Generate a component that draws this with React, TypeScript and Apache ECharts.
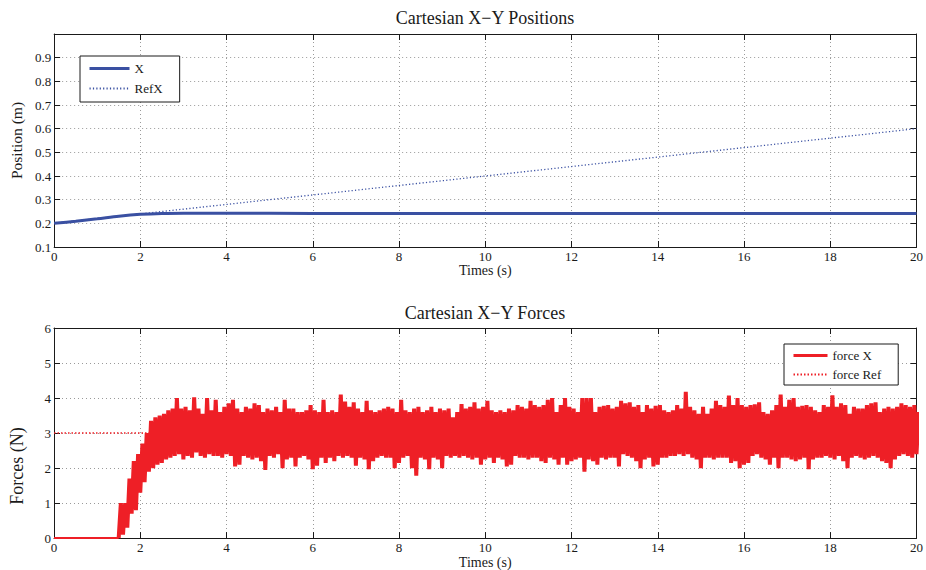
import React, { useEffect, useRef } from "react";
import * as echarts from "echarts";

// ---- Position plot data ----
const posTimes = [0, 0.5, 1, 1.5, 2, 2.5, 3, 4, 6, 8, 10, 12, 14, 16, 18, 20];
const posX = [0.2, 0.209, 0.219, 0.23, 0.238, 0.242, 0.243, 0.243, 0.242, 0.242, 0.242, 0.242, 0.242, 0.242, 0.242, 0.242];
const refTimes = [0, 2, 4, 6, 8, 10, 12, 14, 16, 18, 20];
const refX = [0.2, 0.24, 0.28, 0.32, 0.36, 0.4, 0.44, 0.48, 0.52, 0.56, 0.6];

// ---- Force plot data ----
// Force is zero until contact, then a fast oscillation; stored as the
// per-0.1 s high / low excursions of the signal starting at forceStart.
const idleTimes = [0, 1.5];
const idleForce = [0, 0];
const forceStart = 1.5;
const forceStep = 0.1;
const forceHi = [
  1.0, 1.0, 1.7, 2.2, 2.4, 2.7, 3.0, 3.35, 3.45, 3.5,
  3.55, 3.65, 3.7, 4.0, 3.7, 3.75, 3.65, 4.02, 3.7, 3.55,
  4.0, 3.65, 3.95, 3.6, 3.75, 3.85, 3.95, 3.7, 3.6, 3.75,
  3.7, 3.85, 3.8, 3.6, 3.7, 3.65, 3.75, 3.6, 3.95, 3.7,
  3.7, 3.6, 3.6, 3.65, 3.8, 3.65, 3.6, 3.95, 3.6, 3.65,
  3.6, 4.1, 3.9, 3.75, 3.88, 3.7, 3.6, 3.92, 3.65, 3.6,
  3.65, 3.7, 3.75, 3.7, 3.6, 3.95, 3.65, 3.6, 3.7, 3.75,
  3.6, 3.65, 3.75, 3.6, 3.7, 3.65, 3.7, 3.45, 3.6, 3.83,
  3.7, 3.75, 3.88, 3.7, 3.75, 3.92, 3.65, 3.6, 3.65, 3.6,
  3.7, 3.65, 3.8, 3.75, 3.7, 3.92, 3.8, 3.75, 3.8, 3.95,
  4.0, 3.6, 3.8, 4.0, 3.75, 3.7, 3.6, 4.0, 4.0, 4.0,
  3.6, 3.75, 3.78, 3.8, 3.7, 3.75, 3.92, 3.85, 3.88, 3.75,
  3.8, 3.6, 3.8, 3.7, 3.78, 3.8, 3.65, 3.6, 3.65, 3.8,
  3.7, 4.18, 3.75, 3.65, 3.55, 3.75, 3.55, 3.7, 3.92, 3.8,
  3.75, 4.07, 3.8, 4.0, 3.8, 3.75, 3.8, 3.82, 3.88, 3.6,
  3.55, 3.65, 3.8, 4.1, 3.75, 3.95, 4.0, 3.75, 3.78, 3.8,
  3.75, 3.65, 3.6, 3.8, 3.75, 4.08, 3.75, 3.85, 3.8, 3.55,
  3.75, 3.7, 3.7, 3.8, 3.85, 3.88, 3.6, 3.7, 3.75, 3.7,
  3.75, 3.85, 3.8, 3.75, 3.8, 3.6,
];
const forceLo = [
  0.0, 0.1, 0.3, 0.7, 0.8, 1.3, 1.6, 1.9, 2.0, 2.1,
  2.15, 2.25, 2.3, 2.35, 2.4, 2.25, 2.35, 2.3, 2.45, 2.35,
  2.3, 2.4, 2.35, 2.35, 2.3, 2.4, 2.35, 2.05, 2.1, 2.35,
  2.3, 2.25, 2.3, 2.2, 1.95, 2.35, 2.3, 2.4, 2.0, 2.25,
  2.3, 2.05, 2.3, 2.35, 2.25, 1.97, 2.07, 2.3, 2.15, 2.3,
  2.2, 2.35, 2.3, 2.35, 2.3, 2.07, 2.3, 2.25, 1.97, 2.2,
  2.3, 2.35, 2.3, 2.3, 2.0, 2.15, 2.3, 2.35, 2.0, 1.78,
  2.3, 2.25, 1.97, 2.3, 2.25, 2.0, 2.35, 2.3, 2.35, 2.3,
  2.35, 2.3, 2.25, 2.3, 2.1, 2.25, 2.3, 2.15, 2.3, 2.25,
  2.05, 2.1, 2.35, 2.3, 2.3, 2.25, 2.3, 2.3, 2.2, 2.15,
  2.3, 2.25, 2.1, 2.3, 2.1, 2.2, 2.25, 2.3, 1.9, 2.25,
  2.2, 2.1, 2.3, 2.25, 2.3, 2.3, 2.05, 2.4, 2.35, 2.3,
  2.2, 2.0, 2.25, 2.3, 2.05, 2.1, 2.3, 2.3, 2.35, 2.35,
  2.4, 2.35, 2.4, 2.3, 2.25, 2.0, 2.3, 2.3, 2.25, 2.3,
  2.3, 2.3, 2.15, 2.2, 2.0, 2.1, 2.15, 2.35, 2.4, 2.3,
  2.25, 2.1, 2.3, 2.0, 2.3, 2.3, 2.25, 2.2, 2.25, 2.3,
  1.97, 2.25, 2.3, 2.3, 2.35, 2.3, 2.25, 2.35, 2.2, 2.0,
  2.3, 2.35, 2.3, 2.25, 2.3, 2.35, 2.3, 2.2, 2.15, 2.0,
  2.25, 2.35, 2.4, 2.35, 2.3, 2.4,
];
const forceRefTimes = [0, 20];
const forceRef = [3, 3];

const BLUE = "#3a50a2";
const RED = "#ee1f26";
const INK = "#1a1a1a";
const FONT = "'Liberation Serif', 'Times New Roman', serif";

const pairs = (xs: number[], ys: number[]) => xs.map((x, i) => [x, ys[i]]);

// zig-zag between the low and high excursion of every 0.1 s slot
function forceOscillation() {
  const pts: number[][] = [];
  forceLo.forEach((lo, i) => {
    const t = forceStart + i * forceStep;
    pts.push([+t.toFixed(3), lo]);
    pts.push([+(t + forceStep / 2).toFixed(3), forceHi[i]]);
  });
  return pts;
}

function boxAxesX(gridIndex: number) {
  const common = {
    type: "value",
    gridIndex,
    min: 0,
    max: 20,
    interval: 2,
    axisLine: { show: true, onZero: false, lineStyle: { color: INK, width: 1 } },
    axisTick: { show: true, inside: true, length: 6, lineStyle: { color: INK } },
  };
  return [
    {
      ...common,
      position: "bottom",
      axisLabel: { fontFamily: FONT, fontSize: 13, color: INK, margin: 3 },
      splitLine: { show: true, lineStyle: { type: [1, 3], color: "#9a9a9a", width: 1 } },
      name: "Times (s)",
      nameLocation: "middle",
      nameGap: 14,
      nameTextStyle: { fontFamily: FONT, fontSize: 14, color: INK, verticalAlign: "top" },
    },
    {
      ...common,
      position: "top",
      axisLabel: { show: false },
      splitLine: { show: false },
    },
  ];
}

function boxAxesY(gridIndex: number, min: number, max: number, interval: number, name: string, extra: any) {
  const common = {
    type: "value",
    gridIndex,
    min,
    max,
    interval,
    axisLine: { show: true, onZero: false, lineStyle: { color: INK, width: 1 } },
    axisTick: { show: true, inside: true, length: 6, lineStyle: { color: INK } },
  };
  return [
    {
      ...common,
      position: "left",
      axisLabel: {
        fontFamily: FONT,
        fontSize: 13,
        color: INK,
        margin: 3,
        formatter: extra.formatter,
        showMaxLabel: extra.showMaxLabel,
      },
      splitLine: { show: true, lineStyle: { type: [1, 3], color: "#9a9a9a", width: 1 } },
      name,
      nameLocation: "middle",
      nameGap: extra.nameGap,
      nameTextStyle: { fontFamily: FONT, fontSize: extra.nameSize, color: INK, padding: extra.namePadding },
    },
    {
      ...common,
      position: "right",
      axisLabel: { show: false },
      splitLine: { show: false },
    },
  ];
}

export default function App() {
  const ref = useRef<HTMLDivElement>(null);

  useEffect(() => {
    if (!ref.current) return;
    const chart = echarts.init(ref.current, undefined, { renderer: "svg" });

    const legendText = { fontFamily: FONT, fontSize: 13, color: INK };
    // legend keeps only the line sample, no marker in the middle
    const noMarker = { color: "rgba(0,0,0,0)", borderColor: "rgba(0,0,0,0)", borderWidth: 0 };

    chart.setOption({
      animation: false,
      backgroundColor: "#ffffff",
      title: [
        {
          text: "Cartesian X\u2212Y Positions",
          left: 485,
          top: 9,
          textAlign: "center",
          padding: 0,
          textStyle: { fontFamily: FONT, fontSize: 18, fontWeight: "normal", color: INK },
        },
        {
          text: "Cartesian X\u2212Y Forces",
          left: 485,
          top: 304,
          textAlign: "center",
          padding: 0,
          textStyle: { fontFamily: FONT, fontSize: 18, fontWeight: "normal", color: INK },
        },
      ],
      legend: [
        {
          data: [
            { name: "X", lineStyle: { width: 3 } },
            { name: "RefX" },
          ],
          left: 80,
          top: 56,
          orient: "vertical",
          align: "left",
          itemWidth: 40,
          itemHeight: 14,
          itemGap: 7,
          padding: [6, 17, 7, 8],
          borderColor: INK,
          borderWidth: 1,
          backgroundColor: "#ffffff",
          borderRadius: 0,
          itemStyle: noMarker,
          textStyle: legendText,
          selectedMode: false,
        },
        {
          data: [
            { name: "force X", lineStyle: { width: 3 } },
            { name: "force Ref" },
          ],
          left: 784,
          top: 344,
          orient: "vertical",
          align: "left",
          itemWidth: 34,
          itemHeight: 14,
          itemGap: 6,
          padding: [5, 17, 4, 8],
          borderColor: INK,
          borderWidth: 1,
          backgroundColor: "#ffffff",
          borderRadius: 0,
          itemStyle: noMarker,
          textStyle: legendText,
          selectedMode: false,
        },
      ],
      grid: [
        { left: 50, top: 34, width: 870, height: 213 },
        { left: 50, top: 328, width: 870, height: 212 },
      ],
      xAxis: [...boxAxesX(0), ...boxAxesX(1)],
      yAxis: [
        ...boxAxesY(0, 0.1, 1.0, 0.1, "Position (m)", {
          formatter: (v: number) => v.toFixed(1),
          showMaxLabel: false,
          nameGap: 22,
          nameSize: 15.5,
          namePadding: 0,
        }),
        ...boxAxesY(1, 0, 6, 1, "Forces (N)", {
          formatter: (v: number) => String(Math.round(v)),
          showMaxLabel: true,
          nameGap: 28,
          nameSize: 18,
          namePadding: [0, 66, 0, 0],
        }),
      ],
      series: [
        {
          name: "RefX",
          type: "line",
          xAxisIndex: 0,
          yAxisIndex: 0,
          data: pairs(refTimes, refX),
          symbol: "none",
          lineStyle: { color: BLUE, width: 1.3, type: [1.2, 2.2] },
          itemStyle: { color: BLUE },
          z: 2,
        },
        {
          name: "X",
          type: "line",
          xAxisIndex: 0,
          yAxisIndex: 0,
          data: pairs(posTimes, posX),
          symbol: "none",
          smooth: 0.3,
          lineStyle: { color: BLUE, width: 3 },
          itemStyle: { color: BLUE },
          z: 3,
        },
        {
          name: "force Ref",
          type: "line",
          xAxisIndex: 2,
          yAxisIndex: 2,
          data: pairs(forceRefTimes, forceRef),
          symbol: "none",
          lineStyle: { color: RED, width: 1.5, type: [1.5, 2] },
          itemStyle: { color: RED },
          z: 2,
        },
        {
          name: "force X",
          type: "line",
          xAxisIndex: 2,
          yAxisIndex: 2,
          data: pairs(idleTimes, idleForce),
          symbol: "none",
          lineStyle: { color: RED, width: 2 },
          itemStyle: { color: RED },
          z: 3,
        },
        {
          name: "force X",
          type: "line",
          xAxisIndex: 2,
          yAxisIndex: 2,
          data: forceOscillation(),
          symbol: "none",
          lineStyle: { color: RED, width: 4, join: "bevel" },
          itemStyle: { color: RED },
          z: 3,
        },
      ],
    });

    return () => chart.dispose();
  }, []);

  return (
    <div
      ref={ref}
      style={{ position: "absolute", left: 0, top: 0, width: 926, height: 570, background: "#fff" }}
    />
  );
}
